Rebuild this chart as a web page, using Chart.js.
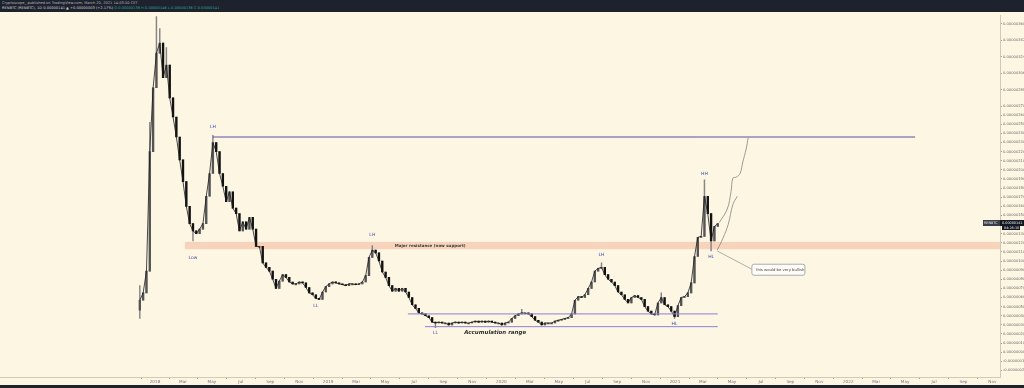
<!DOCTYPE html>
<html><head><meta charset="utf-8">
<script src="https://cdn.jsdelivr.net/npm/chart.js@4"></script>
<style>
html,body{margin:0;padding:0;background:#fdf6e3;width:1024px;height:388px;overflow:hidden;font-family:'DejaVu Sans',sans-serif}
#hdr{position:absolute;left:0;top:0;width:1024px;height:12px;background:#1e222d;color:#b2b5be;font-size:3.6px;line-height:5px}
#hdr .l1{position:absolute;left:2px;top:1px;white-space:nowrap}
#hdr .l2{position:absolute;left:2px;top:6px;white-space:nowrap;color:#d1d4dc}
#hdr .g{color:#26a69a}
#cv{position:absolute;left:0;top:12px}
#ftr{position:absolute;left:0;top:385px;width:1024px;height:3px;background:#1e222d}
</style></head>
<body>
<div id="hdr"><div class="l1">Cryptoscope_ published on TradingView.com, March 20, 2021 14:03:50 CET</div><div class="l2">RENBTC (RENBTC), 1D 0.00000141 ▲ +0.00000003 (+2.17%) <span class="g">O:0.00000138 H:0.00000146 L:0.00000136 C:0.00000141</span></div></div>
<canvas id="cv" width="1024" height="373"></canvas>
<div id="ftr"></div>
<script>
// ---------- data (prices in satoshi, 1e-8 BTC) ----------
const startDate = '2017-11-30';   // first weekly candle
const firstOpen = 46;
const closes = [57,65,89,220,290,328,339,301,315,279,
 258,236,211,187,160,141,133,130,135,141,
 171,196,230,220,196,182,165,176,158,152,
 133,143,135,148,135,116,116,98,93,89,
 80,70,78,85,82,77,75,75,77,76,
 71,65,63,59,58,66,72,75,77,76,
 75,74,73,75,75,74,75,77,84,104,
 112,109,100,88,82,73,67,70,67,70,
 66,60,52,48,43,42,40,38,33,32,
 33,32,32,30,32,33,32,33,32,32,
 33,34,33,34,33,34,33,32,32,30,
 32,33,37,40,42,43,43,42,39,35,
 33,30,32,32,32,34,35,36,37,38,
 42,57,61,60,63,70,77,89,92,93,
 85,80,77,73,66,63,58,54,60,62,
 60,58,50,45,42,41,54,60,52,50,
 45,39,51,60,61,65,76,105,126,127,
 171,152,122,138,141];
// [candle index, low, high] for visible wicks
const wicks = [[0,37,73],[3,null,252],[4,230,null],[5,null,368],[6,null,355],[8,null,334],
 [16,122,null],[22,null,238],[70,null,117],[89,27,null],[115,null,47],[139,null,98],
 [157,null,65],[161,37,null],[170,null,189],[172,111,null]];
const monthTicks = ['2018-01-01','2018-03-01','2018-05-01','2018-07-01','2018-09-01','2018-11-01',
 '2019-01-01','2019-03-01','2019-05-01','2019-07-01','2019-09-01','2019-11-01',
 '2020-01-01','2020-03-01','2020-05-01','2020-07-01','2020-09-01','2020-11-01',
 '2021-01-01','2021-03-01','2021-05-01','2021-07-01','2021-09-01','2021-11-01',
 '2022-01-01','2022-03-01','2022-05-01','2022-07-01','2022-09-01','2022-11-01'];
const monthLabels = ['2018','Mar','May','Jul','Sep','Nov','2019','Mar','May','Jul','Sep','Nov',
 '2020','Mar','May','Jul','Sep','Nov','2021','Mar','May','Jul','Sep','Nov',
 '2022','Mar','May','Jul','Sep','Nov'];
const priceTicks = [-20,-10,0,10,20,30,40,50,60,70,80,90,100,110,120,130,140,150,160,170,180,
 190,200,210,220,230,240,250,260,270,288,306,324,342,360];
// drawn levels
const resistance = {level:236, from:'2018-05-03', to:'2022-05-22'};
const band = {low:113, high:121, from:'2018-03-05'};
const accumUpper = {level:42, from:'2019-06-18', to:'2021-04-01'};
const accumLower = {level:28, from:'2019-07-24', to:'2021-04-01'};
const projUpperDays = [1189,1206,1214,1218,1225,1233,1239,1246,1250];
const projUpperVals = [142,157,176,191,192,196,209,223,235];
const projLowerDays = [1185,1197,1208,1218,1227];
const projLowerVals = [112,125,140,162,171];
const swings = [['Low',16,'below',17],['LH',22,'above',8],['LL',53,'below',7],['LH',70,'above',11],
 ['LL',89,'below',5],['LH',139,'above',8],['HL',161,'below',5],['HH',170,'above',6],['HL',172,'below',6]];
const callout = {text:'this would be very bullish', fromDay:1185, fromVal:111, toDay:1258, toVal:91};

// ---------- build ----------
const day0 = Date.UTC(2018,0,1);
const dayOf = s => (Date.parse(s) - day0)/86400000;
const sd = dayOf(startDate);
const candles = closes.map((c,i)=>{
  const o = i===0 ? firstOpen : closes[i-1];
  return {x: sd + 7*i, o, c, lo: Math.min(o,c), hi: Math.max(o,c)};
});
wicks.forEach(([i,l,h])=>{ if(l!==null) candles[i].lo=Math.min(candles[i].lo,l); if(h!==null) candles[i].hi=Math.max(candles[i].hi,h); });

const fmt = v => (v*1e-8).toFixed(8);
const hline = (o)=>[{x:dayOf(o.from),y:o.level},{x:dayOf(o.to),y:o.level}];

const overlay = {
  id:'overlay',
  beforeDatasetsDraw(chart){
    const {ctx, chartArea:a, scales:{x,y}} = chart;
    ctx.save();
    ctx.fillStyle = 'rgba(236,150,118,0.36)';
    const x0 = x.getPixelForValue(dayOf(band.from));
    const y0 = y.getPixelForValue(band.high), y1 = y.getPixelForValue(band.low);
    ctx.fillRect(x0, y0, a.right - x0, y1 - y0);
    ctx.restore();
  },
  afterDatasetsDraw(chart){
    const {ctx, chartArea:a, scales:{x,y}} = chart;
    ctx.save();
    ctx.fillStyle = '#3a3a3a';
    ctx.font = 'bold 4px "DejaVu Sans"';
    ctx.textAlign = 'center'; ctx.textBaseline = 'middle';
    ctx.fillText('Major resistance (now support)', x.getPixelForValue(580), y.getPixelForValue((band.low+band.high)/2));
    ctx.font = 'italic bold 5.5px "DejaVu Sans"';
    ctx.fillStyle = '#2e2e2e';
    ctx.fillText('Accumulation range', x.getPixelForValue(717), y.getPixelForValue(21));
    ctx.font = '4.5px "DejaVu Sans"';
    ctx.fillStyle = '#3b4aa8';
    swings.forEach(([t,i,pos,gap])=>{
      const cd = candles[i];
      const px = x.getPixelForValue(cd.x);
      const py = pos==='above' ? y.getPixelForValue(cd.hi) - gap : y.getPixelForValue(cd.lo) + gap;
      ctx.fillText(t, px, py);
    });
    const bx = x.getPixelForValue(callout.toDay), by = y.getPixelForValue(callout.toVal);
    ctx.fillStyle = '#fffdf6'; ctx.strokeStyle = '#8d98b0'; ctx.lineWidth = 0.8;
    ctx.beginPath(); ctx.roundRect(bx, by-5, 53, 11, 2); ctx.fill(); ctx.stroke();
    ctx.fillStyle = '#444'; ctx.font = '3.8px "DejaVu Sans"'; ctx.textAlign='left';
    ctx.fillText(callout.text, bx+4, by+0.5);
    ctx.restore();
  },
  afterDraw(chart){
    const {ctx, chartArea:a, scales:{y}} = chart;
    const last = candles[candles.length-1];
    const py = Math.round(y.getPixelForValue(last.c));
    ctx.save();
    ctx.fillStyle = '#3a3e4a'; ctx.fillRect(a.right-17, py-4, 17, 6);
    ctx.fillStyle = '#131722'; ctx.fillRect(a.right, py-4, 24, 6);
    ctx.fillRect(a.right+2, py+2, 18, 4);
    ctx.fillStyle = '#e8e8e8'; ctx.font = '3.4px "DejaVu Sans"'; ctx.textBaseline='middle';
    ctx.fillText('RENBTC', a.right-16, py-1);
    ctx.fillText(fmt(last.c), a.right+2, py-1);
    ctx.fillText('04:26:10', a.right+4, py+4);
    ctx.restore();
  }
};

new Chart(document.getElementById('cv'), {
  type:'bar',
  data:{datasets:[
    {type:'line', data:hline(resistance), borderColor:'#5550aa', borderWidth:1, pointRadius:0, order:0},
    {type:'line', data:hline(accumUpper), borderColor:'#8b80d8', borderWidth:1, pointRadius:0, order:0},
    {type:'line', data:hline(accumLower), borderColor:'#8b80d8', borderWidth:1, pointRadius:0, order:0},
    {type:'line', data:projUpperDays.map((d,i)=>({x:d,y:projUpperVals[i]})), borderColor:'#8e8e8e', borderWidth:0.9, pointRadius:0, tension:0.4, order:0},
    {type:'line', data:projLowerDays.map((d,i)=>({x:d,y:projLowerVals[i]})), borderColor:'#8e8e8e', borderWidth:0.9, pointRadius:0, tension:0.4, order:0},
    {type:'line', data:[{x:callout.fromDay,y:callout.fromVal},{x:callout.toDay,y:callout.toVal}], borderColor:'#9a9a9a', borderWidth:0.8, pointRadius:0, order:0},
    {type:'line', data:candles.map(c=>({x:c.x,y:c.c})), borderColor:'#1b1b1b', borderWidth:0.8, pointRadius:0, order:1},
    {type:'bar', data:candles.map(c=>({x:c.x,y:[c.o,c.c]})), grouped:false, barThickness:1.7, minBarLength:1,
      backgroundColor:candles.map(c=>c.c>=c.o?'#555':'#111'), order:2},
    {type:'bar', data:candles.map(c=>({x:c.x,y:[c.lo,c.hi]})), grouped:false, barThickness:0.8,
      backgroundColor:'#858585', order:3}
  ]},
  options:{
    responsive:false, animation:false, devicePixelRatio:1, events:[],
    layout:{padding:0},
    plugins:{legend:{display:false}, tooltip:{enabled:false}},
    scales:{
      x:{type:'linear', min:-326.7, max:1780.9, offset:false,
        grid:{display:true, drawOnChartArea:false, drawTicks:true, tickLength:2, color:'#a8a290'},
        border:{display:true, color:'#d2cab2'},
        ticks:{autoSkip:false, maxRotation:0, padding:0, font:{size:4.2, family:'DejaVu Sans'}, color:'#777',
          callback:(v,i)=>monthLabels[i]},
        afterBuildTicks:s=>{ s.ticks = monthTicks.map(m=>({value:dayOf(m)})); },
        afterFit:s=>{ s.height = 8; }
      },
      y:{type:'linear', position:'right', min:-27.2, max:369.6,
        grid:{display:true, drawOnChartArea:false, drawTicks:true, tickLength:2, color:'#a8a290'},
        border:{display:true, color:'#d2cab2'},
        ticks:{autoSkip:false, padding:1, font:{size:3.7, family:'DejaVu Sans'}, color:'#666', callback:v=>fmt(v)},
        afterBuildTicks:s=>{ s.ticks = priceTicks.map(v=>({value:v})); },
        afterFit:s=>{ s.width = 24; }
      }
    }
  },
  plugins:[overlay]
});
</script>
</body></html>
